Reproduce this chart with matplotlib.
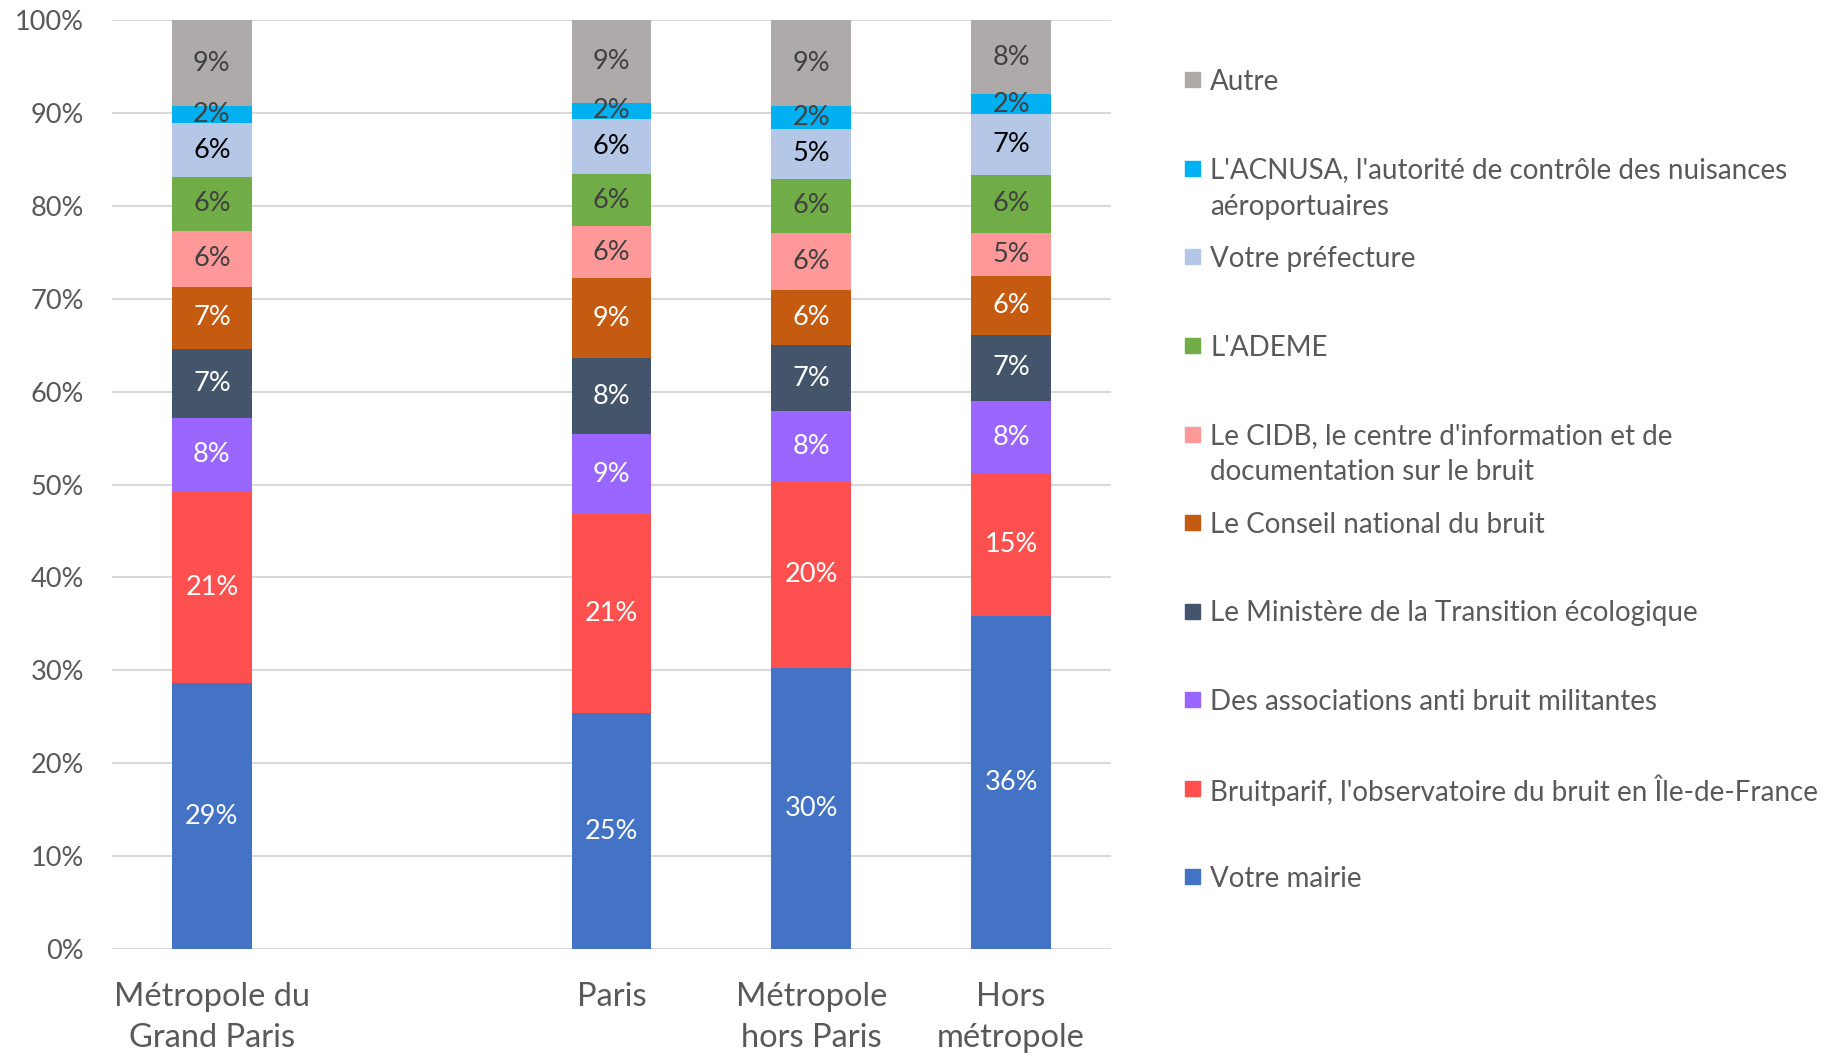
import matplotlib
matplotlib.use("Agg")
import matplotlib.pyplot as plt
import numpy as np
from matplotlib.patches import Rectangle

plt.rcParams['font.family'] = ['Lato', 'DejaVu Sans']

# categories (an empty slot sits between the first and the second bar)
categories = ["Métropole du\nGrand Paris", "", "Paris", "Métropole\nhors Paris", "Hors\nmétropole"]
bar_slots = [0, 2, 3, 4]

# series, bottom to top, values in % per bar
series_names = [
    "Votre mairie",
    "Bruitparif, l'observatoire du bruit en Île-de-France",
    "Des associations anti bruit militantes",
    "Le Ministère de la Transition écologique",
    "Le Conseil national du bruit",
    "Le CIDB, le centre d'information et de\ndocumentation sur le bruit",
    "L'ADEME",
    "Votre préfecture",
    "L'ACNUSA, l'autorité de contrôle des nuisances\naéroportuaires",
    "Autre",
]
mairie      = [28.6, 25.4, 30.3, 35.8]
bruitparif  = [20.6, 21.4, 20.0, 15.4]
assoc       = [8.0, 8.6, 7.6, 7.8]
ministere   = [7.4, 8.2, 7.1, 7.1]
conseil     = [6.7, 8.6, 5.9, 6.3]
cidb        = [6.0, 5.6, 6.2, 4.7]
ademe       = [5.8, 5.6, 5.8, 6.2]
prefecture  = [5.8, 6.0, 5.4, 6.6]
acnusa      = [1.8, 1.7, 2.4, 2.1]
autre       = [9.3, 8.9, 9.3, 8.0]
series_vals = [mairie, bruitparif, assoc, ministere, conseil, cidb, ademe, prefecture, acnusa, autre]

colors = ["#4472C4", "#FF5050", "#9966FF", "#44546A", "#C55A11",
          "#FF9999", "#70AD47", "#B4C7E7", "#00B0F0", "#AEAAAA"]
label_colors = ["white", "white", "white", "white", "white",
                "#404040", "#404040", "black", "#404040", "#404040"]

fig = plt.figure(figsize=(18.3, 10.56), dpi=100)
ax = fig.add_axes([0.0612, 0.1013, 0.5459, 0.8797])

x = np.array(bar_slots, dtype=float)
bottom = np.zeros(len(x))
for name, vals, col, lcol in zip(series_names, series_vals, colors, label_colors):
    v = np.array(vals) / 100.0
    ax.bar(x, v, width=0.4, bottom=bottom, color=col, zorder=3)
    for xi, b, vi in zip(x, bottom, v):
        ax.text(xi, b + vi / 2, "{:.0f}%".format(vi * 100), ha='center', va='center',
                fontsize=19.5, color=lcol, zorder=4)
    bottom += v

ax.set_xlim(-0.5, 4.5)
ax.set_ylim(0, 1)
ticks = np.arange(0, 1.01, 0.1)
ax.set_yticks(ticks)
ax.set_yticklabels(["{:.0f}%".format(t * 100) for t in ticks])
ax.set_xticks(range(len(categories)))
ax.set_xticklabels(categories, linespacing=1.45)
ax.grid(axis='y', color='#d9d9d9', lw=1.5, zorder=0)
for s in ax.spines.values():
    s.set_visible(False)
ax.tick_params(axis='both', length=0, colors='#595959')
ax.tick_params(axis='y', labelsize=19.5, pad=20)
ax.tick_params(axis='x', labelsize=23.5, pad=24)

# legend, drawn by hand so that the marker sits on the first line
leg_x = 1015 / 1568
leg_y0 = 1 - 68 / 905
leg_dy = 75.9 / 905
line_dy = 31 / 905
for i in range(len(series_names)):
    k = len(series_names) - 1 - i
    y = leg_y0 - i * leg_dy
    fig.add_artist(Rectangle((leg_x, y - 0.0075), 0.0082, 0.0142,
                             transform=fig.transFigure, color=colors[k]))
    for j, line in enumerate(series_names[k].split("\n")):
        fig.text(1037 / 1568, y - j * line_dy, line, ha='left', va='center_baseline',
                 fontsize=20, color='#595959')

fig.savefig("out.png", dpi=100)
